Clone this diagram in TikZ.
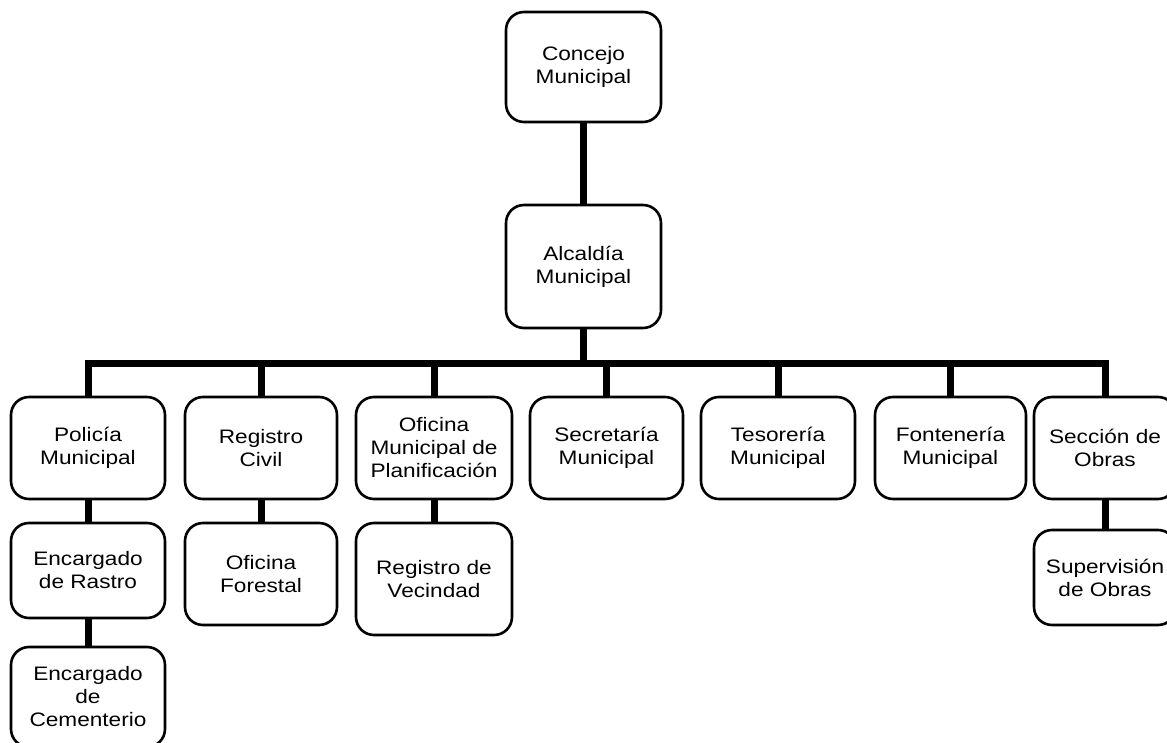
\documentclass[tikz,border=0pt]{standalone}
\usepackage{fontspec}
\setmainfont{Liberation Sans}[FakeStretch=1.16]
\begin{document}
\begin{tikzpicture}[x=1pt,y=-1pt,
  orgbox/.style={draw, line width=2.6pt, rounded corners=18pt, align=center,
    inner sep=0pt, font=\fontsize{19.5}{23}\selectfont},
  conn/.style={line width=7pt, line join=miter}]
\useasboundingbox (0,0) rectangle (1167,743);
\clip (0,0) rectangle (1167,743);
% top levels
\node[orgbox, minimum width=155pt, minimum height=110pt] (concejo) at (583.5,67) {Concejo\\Municipal};
\node[orgbox, minimum width=155pt, minimum height=123pt] (alcaldia) at (583.5,266.5) {Alcaldía\\Municipal};
% second level
\node[orgbox, minimum width=154pt, minimum height=102pt] (policia) at (88,448) {Policía\\Municipal};
\node[orgbox, minimum width=152pt, minimum height=102pt] (registro) at (261,448) {Registro\\Civil};
\node[orgbox, minimum width=156pt, minimum height=102pt] (oficina) at (434,448) {Oficina\\Municipal de\\Planificación};
\node[orgbox, minimum width=153pt, minimum height=102pt] (secretaria) at (606.5,448) {Secretaría\\Municipal};
\node[orgbox, minimum width=154pt, minimum height=102pt] (tesoreria) at (778,448) {Tesorería\\Municipal};
\node[orgbox, minimum width=151pt, minimum height=102pt] (fontaneria) at (950.5,448) {Fontenería\\Municipal};
\node[orgbox, minimum width=142pt, minimum height=102pt] (seccion) at (1105,448) {Sección de\\Obras};
% third level
\node[orgbox, minimum width=154pt, minimum height=95pt] (rastro) at (88,570.5) {Encargado\\de Rastro};
\node[orgbox, minimum width=152pt, minimum height=102pt] (forestal) at (261,574) {Oficina\\Forestal};
\node[orgbox, minimum width=156pt, minimum height=112pt] (vecindad) at (434,579) {Registro de\\Vecindad};
\node[orgbox, minimum width=142pt, minimum height=95pt] (supervision) at (1105,577.5) {Supervisión\\de Obras};
% fourth level
\node[orgbox, minimum width=154pt, minimum height=100pt] (cementerio) at (88,697) {Encargado\\de\\Cementerio};
% connectors
\draw[conn] (concejo.south) -- (alcaldia.north);
\coordinate (bar) at (583.5,363);
\draw[conn] (alcaldia.south) -- (bar);
\draw[conn] (policia.north) |- (bar) -| (seccion.north);
\draw[conn] (registro.north) -- (registro.north |- bar);
\draw[conn] (oficina.north) -- (oficina.north |- bar);
\draw[conn] (secretaria.north) -- (secretaria.north |- bar);
\draw[conn] (tesoreria.north) -- (tesoreria.north |- bar);
\draw[conn] (fontaneria.north) -- (fontaneria.north |- bar);
\draw[conn] (policia.south) -- (rastro.north);
\draw[conn] (rastro.south) -- (cementerio.north);
\draw[conn] (registro.south) -- (forestal.north);
\draw[conn] (oficina.south) -- (vecindad.north);
\draw[conn] (seccion.south) -- (supervision.north);
\end{tikzpicture}
\end{document}
